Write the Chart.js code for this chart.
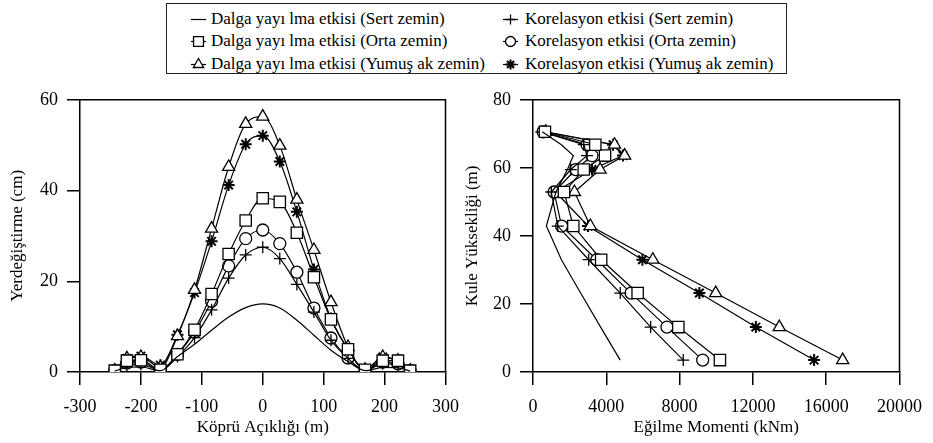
<!DOCTYPE html>
<html>
<head>
<meta charset="utf-8">
<script src="https://cdn.jsdelivr.net/npm/chart.js@4.4.0/dist/chart.umd.min.js"></script>
<style>
  body { margin: 0; background: #fff; width: 933px; height: 443px; position: relative; overflow: hidden;
         font-family: 'Liberation Serif', 'DejaVu Serif', serif; }
  #left { position: absolute; left: 0; top: 80px; }
  #right { position: absolute; left: 455px; top: 80px; }
  #legend { position: absolute; left: 166px; top: 3px; width: 621px; height: 71px;
            border: 1.5px solid #222; box-sizing: border-box; }
  .item { position: absolute; font-size: 17px; line-height: 20px; white-space: nowrap; color: #000; }
  .item canvas { position: absolute; left: 0; top: 0; }
  .item span { position: absolute; top: 0; }
</style>
</head>
<body>
<div id="legend"></div>
<canvas id="left" width="470" height="363"></canvas>
<canvas id="right" width="478" height="363"></canvas>
<script>
// series labels (same order in both panels)
const labels = [
  'Dalga yayı lma etkisi (Sert zemin)',
  'Dalga yayı lma etkisi (Orta zemin)',
  'Dalga yayı lma etkisi (Yumuş ak zemin)',
  'Korelasyon etkisi (Sert zemin)',
  'Korelasyon etkisi (Orta zemin)',
  'Korelasyon etkisi (Yumuş ak zemin)'
];
const markers = [false, 'rect', 'triangle', 'cross', 'circle', 'star'];

// left panel: span position (m) vs displacement (cm)
const spanX = [-243, -223, -200, -168, -140, -112, -84, -56, -28, 0, 28, 56, 84, 112, 140, 168, 197, 222, 242];
const dalgaSert = [0.2, 1.0, 1.1, 0.3, 3.4, 6.1, 9.2, 12.1, 14.2, 15.0, 14.1, 11.4, 8.1, 4.8, 2.3, 0.3, 1.0, 0.9, 0.2];
const dalgaOrta = [0.3, 2.5, 2.6, 0.5, 3.9, 9.3, 17.2, 26.0, 33.4, 38.3, 37.5, 30.7, 20.9, 11.6, 5.0, 0.5, 2.5, 2.5, 0.3];
const dalgaYum = [0.3, 3.0, 3.3, 1.0, 7.9, 18.1, 31.6, 45.2, 54.7, 56.3, 49.9, 38.0, 26.9, 15.4, 5.5, 0.5, 3.3, 2.5, 0.3];
const korSert = [0.3, 1.5, 1.7, 0.4, 3.4, 7.6, 13.7, 20.7, 25.8, 27.5, 25.0, 19.3, 13.2, 7.0, 3.0, 0.3, 1.8, 1.5, 0.3];
const korOrta = [0.3, 2.0, 2.2, 0.4, 3.9, 8.8, 15.6, 23.4, 29.4, 31.3, 28.3, 22.0, 14.1, 7.5, 3.1, 0.3, 2.2, 1.8, 0.3];
const korYum = [0.3, 3.0, 3.5, 1.5, 8.2, 17.5, 28.8, 41.2, 50.2, 52.1, 46.4, 35.3, 22.6, 11.8, 5.0, 0.5, 3.3, 2.3, 0.3];

// right panel: tower height (m) vs bending moment (kNm)
const heights = [3.5, 13.2, 23.2, 33.0, 42.9, 52.9, 59.5, 63.6, 66.8, 70.6];
const mDalgaSert = [4760, 3690, 2600, 1550, 730, 1250, 1880, 2200, 1550, 500];
const mDalgaOrta = [10200, 7930, 5710, 3720, 2200, 1690, 2770, 3930, 3400, 650];
const mDalgaYum = [16900, 13440, 9970, 6540, 3130, 2260, 3660, 5000, 4450, 700];
const mKorSert = [8200, 6420, 4760, 3040, 1350, 1000, 2060, 2950, 2770, 450];
const mKorOrta = [9260, 7310, 5350, 3480, 1560, 1150, 2330, 3220, 2950, 550];
const mKorYum = [15340, 12160, 9080, 5970, 3000, 1230, 3220, 4910, 4370, 600];

const FONT = "'Liberation Serif', 'DejaVu Serif', serif";
const radii = { rect: 8, triangle: 7, cross: 6, circle: 6, star: 6 };

function styleSet(label, data, marker, smooth) {
  return {
    label: label,
    data: data,
    showLine: true,
    borderColor: '#000',
    backgroundColor: '#fff',
    borderWidth: 1.2,
    pointStyle: marker || 'circle',
    pointRadius: marker ? radii[marker] : 0,
    pointBorderWidth: marker === 'star' ? 2 : 1.3,
    pointBorderColor: '#000',
    pointBackgroundColor: '#fff',
    cubicInterpolationMode: smooth ? 'monotone' : 'default',
    tension: 0
  };
}

const leftSets = [dalgaSert, dalgaOrta, dalgaYum, korSert, korOrta, korYum].map((s, i) =>
  styleSet(labels[i], spanX.map((x, k) => ({ x: x, y: s[k] })), markers[i], true));
const rightSets = [mDalgaSert, mDalgaOrta, mDalgaYum, mKorSert, mKorOrta, mKorYum].map((m, i) =>
  styleSet(labels[i], heights.map((h, k) => ({ x: m[k], y: h })), markers[i], false));

// draw top and right edges of the plot frame
const framePlugin = {
  id: 'frame',
  afterDraw(chart) {
    const a = chart.chartArea, ctx = chart.ctx;
    ctx.save();
    ctx.strokeStyle = '#000';
    ctx.lineWidth = 1.5;
    ctx.beginPath();
    ctx.moveTo(a.left, a.top);
    ctx.lineTo(a.right, a.top);
    ctx.lineTo(a.right, a.bottom);
    ctx.stroke();
    ctx.restore();
  }
};

function axis(min, max, step, title, isY, width) {
  return {
    type: 'linear',
    min: min, max: max,
    border: { color: '#000', width: 1.5 },
    grid: { drawOnChartArea: false, color: '#000', lineWidth: 1.5, tickLength: 13 },
    ticks: { stepSize: step, color: '#000', font: { family: FONT, size: 18 }, padding: isY ? 9 : 11,
             maxRotation: 0, autoSkip: false, callback: v => String(v) },
    title: { display: true, text: title, color: '#000', font: { family: FONT, size: 17 },
             padding: isY ? { top: 7, bottom: 2 } : { top: 2, bottom: 5 } },
    afterFit(a) { if (isY) a.width = width; else a.height = 71; }
  };
}

function makeChart(id, sets, xs, ys, padRight) {
  return new Chart(document.getElementById(id), {
    type: 'scatter',
    data: { datasets: sets },
    plugins: [framePlugin],
    options: {
      responsive: false,
      animation: false,
      layout: { padding: { top: 18, right: padRight, left: 0, bottom: 0 } },
      plugins: { legend: { display: false }, tooltip: { enabled: false } },
      scales: { x: xs, y: ys }
    }
  });
}

makeChart('left', leftSets,
  axis(-300, 300, 100, 'Köprü Açıklığı (m)', false),
  axis(0, 60, 20, 'Yerdeğiştirme (cm)', true, 80), 14);

makeChart('right', rightSets,
  axis(0, 20000, 4000, 'Eğilme Momenti (kNm)', false),
  axis(0, 80, 20, 'Kule Yüksekliği (m)', true, 78), 24);

// shared legend box at the top
const legend = document.getElementById('legend');
const rowTop = [4.5, 27, 49.5];
labels.forEach((lab, i) => {
  const col = i < 3 ? 0 : 1;
  const item = document.createElement('div');
  item.className = 'item';
  item.style.left = (col === 0 ? 22 : 334) + 'px';
  item.style.top = rowTop[i % 3] + 'px';
  const c = document.createElement('canvas');
  c.width = 20; c.height = 20;
  const ctx = c.getContext('2d');
  ctx.strokeStyle = '#000';
  ctx.fillStyle = '#fff';
  ctx.lineWidth = 1.2;
  ctx.beginPath(); ctx.moveTo(2, 10.5); ctx.lineTo(17, 10.5); ctx.stroke();
  if (markers[i]) {
    ctx.lineWidth = markers[i] === 'star' ? 2 : 1.3;
    Chart.helpers.drawPoint(ctx, { pointStyle: markers[i], radius: radii[markers[i]] - 1, rotation: 0, borderWidth: ctx.lineWidth }, 9.5, 10.5);
  }
  const sp = document.createElement('span');
  sp.style.left = col === 0 ? '22px' : '24px';
  sp.textContent = lab;
  item.append(c, sp);
  legend.appendChild(item);
});
</script>
</body>
</html>
